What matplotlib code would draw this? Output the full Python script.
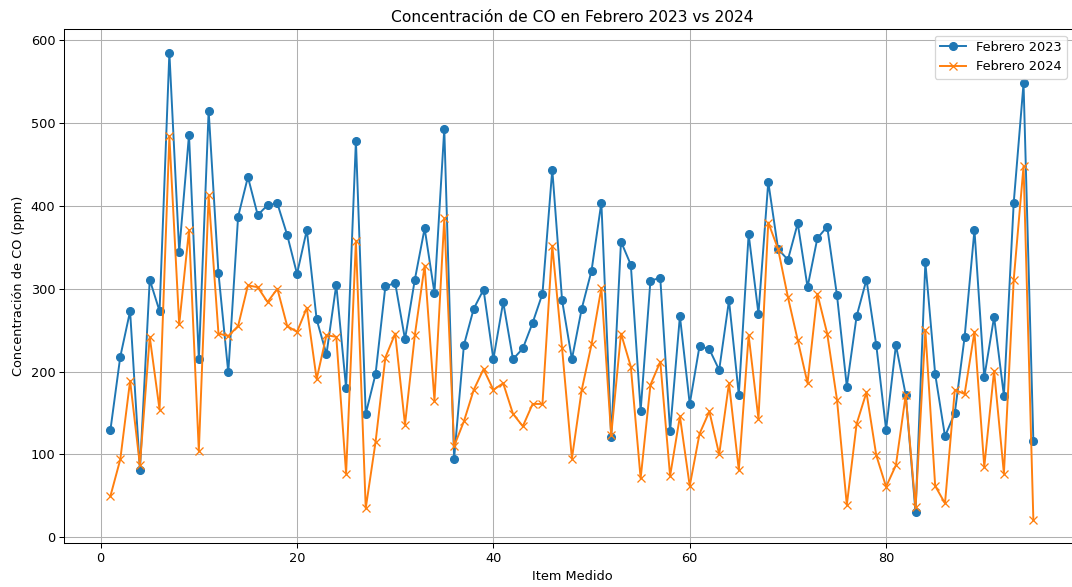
import numpy as np
import matplotlib
matplotlib.use("Agg")
import matplotlib.pyplot as plt

# Item medido 1..95
items = np.arange(1, 96)

co_feb_2023 = [130, 218, 273, 81, 311, 273, 585, 345, 486, 215,
               515, 319, 199, 387, 435, 389, 401, 403, 365, 318,
               371, 263, 221, 305, 180, 479, 149, 197, 303, 307,
               239, 311, 373, 295, 493, 95, 232, 276, 299, 215,
               284, 215, 228, 259, 294, 444, 286, 215, 276, 322,
               404, 121, 357, 329, 153, 310, 313, 128, 267, 161,
               231, 227, 202, 286, 172, 366, 270, 429, 348, 335,
               379, 302, 361, 375, 292, 182, 267, 311, 232, 130,
               232, 172, 30, 332, 197, 122, 150, 242, 371, 193,
               266, 171, 404, 548, 116]

co_feb_2024 = [50, 94, 189, 87, 242, 154, 484, 257, 371, 104,
               413, 246, 243, 255, 304, 302, 284, 300, 255, 248,
               277, 191, 244, 242, 77, 358, 35, 115, 217, 246,
               136, 244, 328, 165, 385, 110, 140, 178, 203, 178,
               186, 149, 134, 161, 161, 352, 228, 95, 178, 233,
               301, 123, 246, 206, 71, 184, 212, 74, 146, 62,
               125, 152, 100, 186, 81, 244, 143, 380, 348, 290,
               238, 186, 294, 246, 166, 39, 137, 175, 99, 61,
               87, 172, 36, 250, 62, 41, 178, 173, 248, 85,
               201, 77, 311, 448, 21]

DPI = 93
fig = plt.figure(figsize=(1072 / DPI, 587 / DPI), dpi=DPI)
plt.plot(items, co_feb_2023, marker='o', label='Febrero 2023')
plt.plot(items, co_feb_2024, marker='x', label='Febrero 2024')
plt.title('Concentración de CO en Febrero 2023 vs 2024')
plt.xlabel('Item Medido')
plt.ylabel('Concentración de CO (ppm)')
# the original screenshot is cut a few pixels past the right edge of the axes
plt.legend(loc='upper right', bbox_to_anchor=(0.994, 1.0))
plt.grid(True)
plt.subplots_adjust(left=0.060, right=1.007, top=0.950, bottom=0.0745)
plt.savefig('out.png', dpi=DPI)
